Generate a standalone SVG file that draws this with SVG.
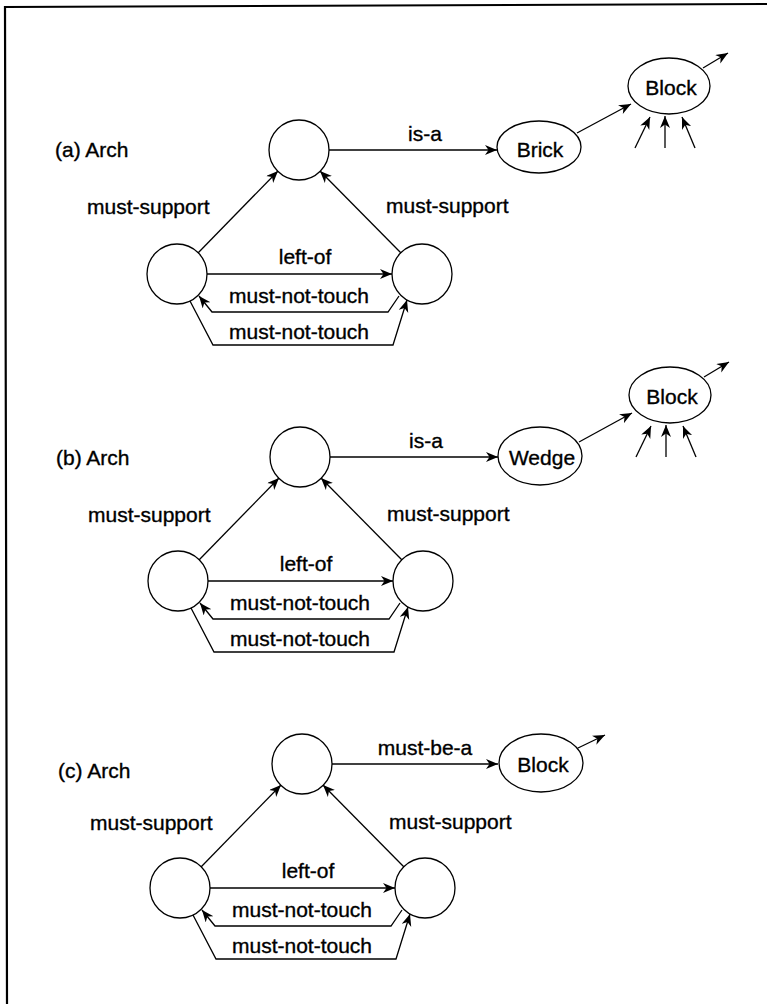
<svg xmlns="http://www.w3.org/2000/svg" width="767" height="1004" viewBox="0 0 767 1004">
  <style>
    .node { fill: none; stroke: #000; stroke-width: 1.3; }
    .edge { fill: none; stroke: #000; stroke-width: 1.3; marker-end: url(#arrow); }
    .frame { fill: none; stroke: #000; stroke-width: 2.2; }
    text { font-family: "Liberation Sans", Arial, sans-serif; font-size: 21px; fill: #000; stroke: #000; stroke-width: 0.35; }
    .mid { text-anchor: middle; }
  </style>
  <defs>
    <marker id="arrow" markerUnits="userSpaceOnUse" markerWidth="14" markerHeight="12" refX="12" refY="5" orient="auto">
      <path d="M0,0 L12,5 L0,10 L3.5,5 z" fill="#000" stroke="none"/>
    </marker>
  </defs>

  <!-- page frame (open on the right and bottom) -->
  <path class="frame" d="M767,4 L5,7 L7,1004"/>

  <!-- (a) Arch: top part is-a Brick -->
  <g id="panel-a">
    <text x="55" y="157">(a) Arch</text>
    <g id="a-top"><circle class="node" cx="299" cy="150" r="30"/></g>
    <g id="a-left"><circle class="node" cx="177" cy="274" r="30"/></g>
    <g id="a-right"><circle class="node" cx="422" cy="274" r="30"/></g>
    <g id="a-brick"><ellipse class="node" cx="539" cy="147" rx="42" ry="26"/><text class="mid" x="540" y="157">Brick</text></g>
    <g id="a-block"><ellipse class="node" cx="669" cy="86" rx="41" ry="28"/><text class="mid" x="671" y="95">Block</text></g>
    <g id="a-connectors">
      <line class="edge" x1="198" y1="253" x2="278" y2="171"/>
      <line class="edge" x1="401" y1="253" x2="320" y2="171"/>
      <line class="edge" x1="207" y1="274" x2="392" y2="274"/>
      <polyline class="edge" points="399,296 388,312 212,312 199,296"/>
      <polyline class="edge" points="190,301 213,345 393,345 407,300"/>
      <line class="edge" x1="329" y1="150" x2="497" y2="150"/>
      <line class="edge" x1="577" y1="133" x2="631" y2="104"/>
      <line class="edge" x1="703" y1="68" x2="728" y2="53"/>
      <line class="edge" x1="635" y1="148" x2="650" y2="117"/>
      <line class="edge" x1="665" y1="148" x2="665" y2="116"/>
      <line class="edge" x1="695" y1="148" x2="682" y2="117"/>
      <text x="87" y="214">must-support</text>
      <text x="386" y="213">must-support</text>
      <text class="mid" x="425" y="141">is-a</text>
      <text class="mid" x="305" y="264">left-of</text>
      <text class="mid" x="299" y="303">must-not-touch</text>
      <text class="mid" x="299" y="339">must-not-touch</text>
    </g>
  </g>

  <!-- (b) Arch: top part is-a Wedge -->
  <g id="panel-b" transform="translate(1,307)">
    <text x="55" y="158">(b) Arch</text>
    <g id="b-top"><circle class="node" cx="299" cy="150" r="30"/></g>
    <g id="b-left"><circle class="node" cx="177" cy="274" r="30"/></g>
    <g id="b-right"><circle class="node" cx="422" cy="274" r="30"/></g>
    <g id="b-wedge"><ellipse class="node" cx="539" cy="149" rx="42" ry="29"/><text class="mid" x="541" y="158">Wedge</text></g>
    <g id="b-block"><ellipse class="node" cx="669" cy="88" rx="41" ry="28"/><text class="mid" x="671" y="97">Block</text></g>
    <g id="b-connectors">
      <line class="edge" x1="198" y1="253" x2="278" y2="171"/>
      <line class="edge" x1="401" y1="253" x2="320" y2="171"/>
      <line class="edge" x1="207" y1="274" x2="392" y2="274"/>
      <polyline class="edge" points="399,296 388,312 212,312 199,296"/>
      <polyline class="edge" points="190,301 213,345 393,345 407,300"/>
      <line class="edge" x1="329" y1="150" x2="497" y2="150"/>
      <line class="edge" x1="578" y1="135" x2="631" y2="106"/>
      <line class="edge" x1="703" y1="70" x2="728" y2="55"/>
      <line class="edge" x1="635" y1="150" x2="650" y2="119"/>
      <line class="edge" x1="665" y1="150" x2="665" y2="118"/>
      <line class="edge" x1="695" y1="150" x2="682" y2="119"/>
      <text x="87" y="215">must-support</text>
      <text x="386" y="214">must-support</text>
      <text class="mid" x="425" y="141">is-a</text>
      <text class="mid" x="305" y="264">left-of</text>
      <text class="mid" x="299" y="303">must-not-touch</text>
      <text class="mid" x="299" y="339">must-not-touch</text>
    </g>
  </g>

  <!-- (c) Arch: top part must-be-a Block -->
  <g id="panel-c" transform="translate(3,614)">
    <text x="55" y="164">(c) Arch</text>
    <g id="c-top"><circle class="node" cx="299" cy="150" r="30"/></g>
    <g id="c-left"><circle class="node" cx="177" cy="274" r="30"/></g>
    <g id="c-right"><circle class="node" cx="422" cy="274" r="30"/></g>
    <g id="c-block"><ellipse class="node" cx="538" cy="149" rx="42" ry="29"/><text class="mid" x="540" y="158">Block</text></g>
    <g id="c-connectors">
      <line class="edge" x1="198" y1="253" x2="278" y2="171"/>
      <line class="edge" x1="401" y1="253" x2="320" y2="171"/>
      <line class="edge" x1="207" y1="274" x2="392" y2="274"/>
      <polyline class="edge" points="399,296 388,312 212,312 199,296"/>
      <polyline class="edge" points="190,301 213,345 393,345 407,300"/>
      <line class="edge" x1="329" y1="150" x2="495" y2="150"/>
      <line class="edge" x1="575" y1="134" x2="602" y2="121"/>
      <text x="87" y="216">must-support</text>
      <text x="386" y="215">must-support</text>
      <text class="mid" x="422" y="141">must-be-a</text>
      <text class="mid" x="305" y="264">left-of</text>
      <text class="mid" x="299" y="303">must-not-touch</text>
      <text class="mid" x="299" y="339">must-not-touch</text>
    </g>
  </g>
</svg>
